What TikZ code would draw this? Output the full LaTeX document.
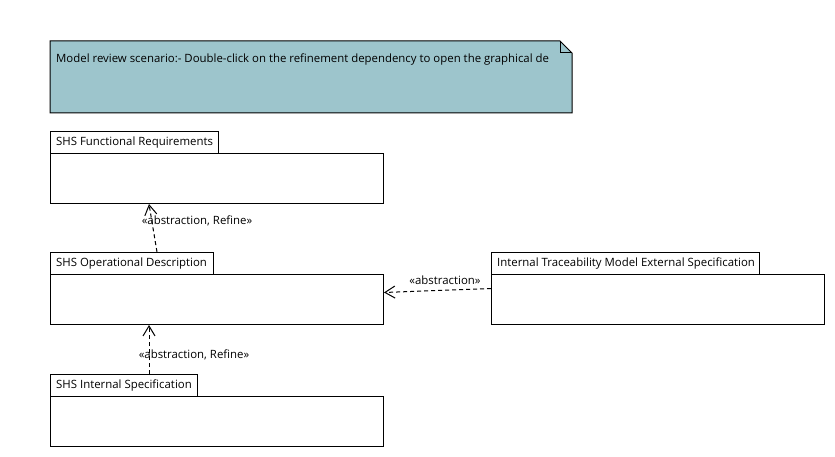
\documentclass[tikz,border=0pt]{standalone}
\usepackage{fontspec}
\setmainfont{Open Sans}
\usetikzlibrary{arrows.meta,calc}
\definecolor{notefill}{RGB}{157,197,204}
\tikzset{
  box/.style={draw=black, line width=1pt, fill=white, anchor=north west, inner sep=0pt, minimum height=22pt},
  bodybox/.style={box, minimum width=333pt, minimum height=50pt},
  lbl/.style={anchor=west, inner sep=0pt, font=\fontsize{11.4}{13}\selectfont},
  deplbl/.style={inner sep=0pt, font=\fontsize{11.4}{13}\selectfont},
  dep/.style={line width=1pt, dash pattern=on 4pt off 3pt, -{Straight Barb[length=10pt,width=12pt,line width=1pt]}},
}
\begin{document}
\begin{tikzpicture}[x=1pt,y=-1pt]
\useasboundingbox (0,0) rectangle (835,457);
% note
\draw[line width=1pt, fill=notefill] (50,41) -- (560,41) -- (572,53) -- (572,113) -- (50,113) -- cycle;
\draw[line width=1pt] (560,41) -- (560,53) -- (572,53);
\node[lbl] (notetext) at (56,60) {Model review scenario:- Double-click on the refinement dependency to open the graphical de};
% packages
\node[box, minimum width=168pt] (frtab) at (50,131) {};
\node[lbl] (frlbl) at ($(frtab.west)+(6,0)$) {SHS Functional Requirements};
\node[bodybox] (frbody) at (50,153) {};

\node[box, minimum width=163pt] (odtab) at (50,252) {};
\node[lbl] (odlbl) at ($(odtab.west)+(6,0)$) {SHS Operational Description};
\node[bodybox] (odbody) at (50,274) {};

\node[box, minimum width=147pt] (istab) at (50,374) {};
\node[lbl] (islbl) at ($(istab.west)+(6,0)$) {SHS Internal Specification};
\node[bodybox] (isbody) at (50,396) {};

\node[box, minimum width=268pt] (ittab) at (491,252) {};
\node[lbl] (itlbl) at ($(ittab.west)+(6,0)$) {Internal Traceability Model External Specification};
\node[bodybox] (itbody) at (491,274) {};
% dependencies
\draw[dep] ($(odtab.north west)+(107,0)$) -- ($(frbody.south west)+(99,0)$);
\node[deplbl] (l1) at (197,221) {«abstraction, Refine»};
\draw[dep] ($(istab.north west)+(99,0)$) -- ($(odbody.south west)+(99,0)$);
\node[deplbl] (l2) at (194,355) {«abstraction, Refine»};
\draw[dep] ($(itbody.west)+(0,-11)$) -- ($(odbody.east)+(0,-7)$);
\node[deplbl] (l3) at (445,280) {«abstraction»};
\end{tikzpicture}
\end{document}
